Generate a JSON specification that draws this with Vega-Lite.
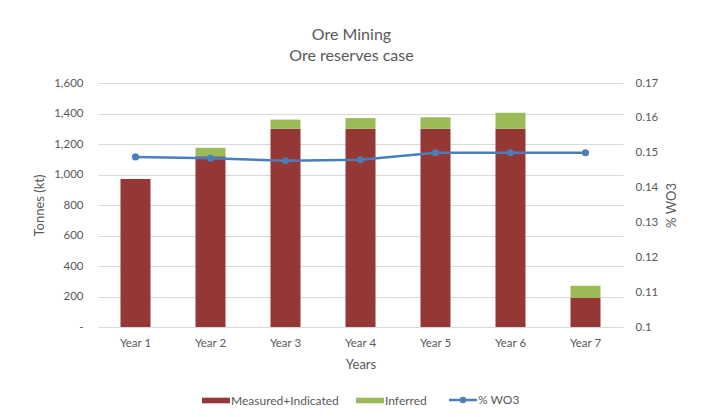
{
  "$schema": "https://vega.github.io/schema/vega-lite/v6.json",
  "width": 525,
  "height": 244,
  "autosize": {"type": "none"},
  "padding": {"left": 98, "top": 83, "right": 81, "bottom": 90},
  "background": "white",
  "config": {
    "font": "Lato",
    "view": {"stroke": null},
    "axis": {
      "labelColor": "#595959",
      "titleColor": "#595959",
      "labelFontSize": 11.5,
      "titleFontSize": 13,
      "titleFontWeight": "normal",
      "ticks": false,
      "domain": false,
      "gridColor": "#d9d9d9"
    }
  },
  "title": {
    "text": ["Ore Mining", "Ore reserves case"],
    "fontSize": 16,
    "fontWeight": "normal",
    "color": "#595959",
    "lineHeight": 21,
    "offset": 13,
    "dx": -9
  },
  "datasets": {
    "bars": [
      {"year": "Year 1", "type": "Measured+Indicated", "value": 970},
      {"year": "Year 1", "type": "Inferred", "value": 0},
      {"year": "Year 2", "type": "Measured+Indicated", "value": 1120},
      {"year": "Year 2", "type": "Inferred", "value": 55},
      {"year": "Year 3", "type": "Measured+Indicated", "value": 1300},
      {"year": "Year 3", "type": "Inferred", "value": 60},
      {"year": "Year 4", "type": "Measured+Indicated", "value": 1300},
      {"year": "Year 4", "type": "Inferred", "value": 70},
      {"year": "Year 5", "type": "Measured+Indicated", "value": 1300},
      {"year": "Year 5", "type": "Inferred", "value": 75},
      {"year": "Year 6", "type": "Measured+Indicated", "value": 1300},
      {"year": "Year 6", "type": "Inferred", "value": 105},
      {"year": "Year 7", "type": "Measured+Indicated", "value": 190},
      {"year": "Year 7", "type": "Inferred", "value": 80}
    ],
    "wo3": [
      {"year": "Year 1", "wo3": 0.1488},
      {"year": "Year 2", "wo3": 0.1484},
      {"year": "Year 3", "wo3": 0.1477},
      {"year": "Year 4", "wo3": 0.148},
      {"year": "Year 5", "wo3": 0.15},
      {"year": "Year 6", "wo3": 0.15},
      {"year": "Year 7", "wo3": 0.15}
    ]
  },
  "encoding": {
    "x": {
      "field": "year",
      "type": "nominal",
      "sort": null,
      "scale": {"paddingInner": 0.6, "paddingOuter": 0.3},
      "axis": {"title": "Years", "labelAngle": 0, "labelPadding": 10, "titlePadding": 10}
    }
  },
  "layer": [
    {
      "data": {"name": "bars"},
      "mark": {"type": "bar"},
      "encoding": {
        "y": {
          "field": "value",
          "type": "quantitative",
          "stack": "zero",
          "scale": {"domain": [0, 1600]},
          "axis": {
            "title": "Tonnes (kt)",
            "values": [0, 200, 400, 600, 800, 1000, 1200, 1400, 1600],
            "labelExpr": "datum.value === 0 ? '-' : format(datum.value, ',')",
            "grid": true,
            "labelPadding": 15,
            "titlePadding": 7
          }
        },
        "order": {"field": "type", "sort": "descending"},
        "color": {
          "field": "type",
          "type": "nominal",
          "scale": {
            "domain": ["Measured+Indicated", "Inferred", "% WO3"],
            "range": ["#953735", "#9BBB59", "#4A7EBB"]
          },
          "legend": {
            "title": null,
            "orient": "none",
            "legendX": 112,
            "legendY": 311,
            "direction": "horizontal",
            "symbolSize": 784,
            "labelFontSize": 12,
            "labelColor": "#595959",
            "columnPadding": 17,
            "labelOffset": 9,
            "encode": {
              "symbols": {
                "update": {
                  "shape": {"signal": "datum.value === '% WO3' ? 'M-1,0H1M0.14,0A0.14,0.14,0,1,1,-0.14,0A0.14,0.14,0,1,1,0.14,0' : 'M-1,-0.2H1V0.2H-1Z'"},
                  "fill": {"scale": "color", "field": "value"},
                  "stroke": {"scale": "color", "field": "value"},
                  "strokeWidth": {"signal": "datum.value === '% WO3' ? 2.5 : 0"},
                  "opacity": {"value": 1},
                  "fillOpacity": {"value": 1}
                }
              }
            }
          }
        }
      }
    },
    {
      "data": {"name": "wo3"},
      "mark": {"type": "line", "strokeWidth": 2.5, "point": {"filled": true, "size": 50}},
      "encoding": {
        "y": {
          "field": "wo3",
          "type": "quantitative",
          "scale": {"domain": [0.1, 0.17], "zero": false},
          "axis": {
            "orient": "right",
            "title": "% WO3",
            "titleAngle": 270,
            "values": [0.1, 0.11, 0.12, 0.13, 0.14, 0.15, 0.16, 0.17],
            "format": ".2~f",
            "grid": false,
            "labelPadding": 12,
            "titlePadding": 21
          }
        },
        "color": {"datum": "% WO3", "type": "nominal"}
      }
    }
  ],
  "resolve": {"scale": {"y": "independent"}}
}
